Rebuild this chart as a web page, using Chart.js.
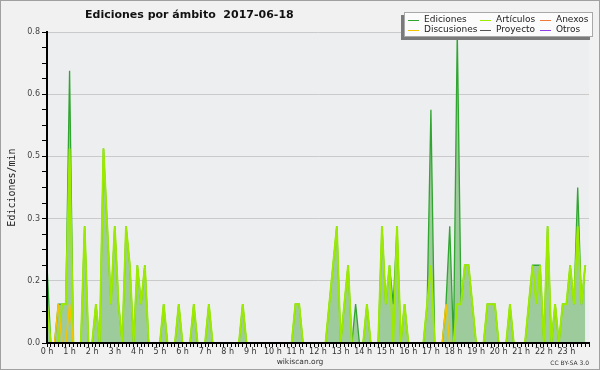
<!DOCTYPE html>
<html><head><meta charset="utf-8">
<script src="https://cdn.jsdelivr.net/npm/chart.js@4/dist/chart.umd.min.js"></script>
<style>html,body{margin:0;padding:0;background:#f1f1f1}#wrap{width:600px;height:370px;position:relative}</style>
</head><body><div id="wrap"><canvas id="c" width="600" height="370"></canvas></div>
<script>
const chartTitle = 'Ediciones por ámbito  2017-06-18';
const yTitle = 'Ediciones/min';
const hourLabels = ['0 h','1 h','2 h','3 h','4 h','5 h','6 h','7 h','8 h','9 h','10 h','11 h','12 h','13 h','14 h','15 h','16 h','17 h','18 h','19 h','20 h','21 h','22 h','23 h'];
const seriesNames = ['Ediciones','Artículos','Anexos','Discusiones','Proyecto','Otros'];
// values every 10 minutes (edits per minute), 6 per hour
const ediciones = [
  0.2,0,0,0.1,0.1,0.1,   0.7,0,0,0,0.3,0,   0,0.1,0,0.5,0.3,0.1,   0.3,0.1,0,0.3,0.2,0,
  0.2,0.1,0.2,0,0,0,     0,0.1,0,0,0,0.1,   0,0,0,0.1,0,0,         0,0.1,0,0,0,0,
  0,0,0,0,0.1,0,         0,0,0,0,0,0,       0,0,0,0,0,0,           0.1,0.1,0,0,0,0,
  0,0,0,0.1,0.2,0.3,     0,0.1,0.2,0,0.1,0, 0,0.1,0,0,0,0.3,       0.1,0.2,0.1,0.3,0,0.1,
  0,0,0,0,0,0.1,         0.6,0,0,0,0.1,0.3, 0,0.8,0.1,0.2,0.2,0.1, 0,0,0,0.1,0.1,0.1,
  0,0,0,0.1,0,0,         0,0,0.1,0.2,0.2,0.2, 0,0.3,0,0.1,0,0.1,   0.1,0.2,0.1,0.4,0.1,0.2
];
const articulos = [
  0.1,0,0,0,0.1,0.1,     0.5,0,0,0,0.3,0,   0,0.1,0,0.5,0.3,0.1,   0.3,0.1,0,0.3,0.2,0,
  0.2,0.1,0.2,0,0,0,     0,0.1,0,0,0,0.1,   0,0,0,0.1,0,0,         0,0.1,0,0,0,0,
  0,0,0,0,0.1,0,         0,0,0,0,0,0,       0,0,0,0,0,0,           0.1,0.1,0,0,0,0,
  0,0,0,0.1,0.2,0.3,     0,0.1,0.2,0,0,0,   0,0.1,0,0,0,0.3,       0.1,0.2,0,0.3,0,0.1,
  0,0,0,0,0,0.1,         0.2,0,0,0,0,0,     0,0.1,0.1,0.2,0.2,0.1, 0,0,0,0.1,0.1,0.1,
  0,0,0,0.1,0,0,         0,0,0.1,0.2,0.1,0.2, 0,0.3,0,0.1,0,0.1,   0.1,0.2,0.1,0.3,0.1,0.2
];
const discusiones = [
  0,0,0,0.1,0,0,  0.1,0,0,0,0,0,  0,0,0,0,0,0,  0,0,0,0,0,0,
  0,0,0,0,0,0,    0,0,0,0,0,0,    0,0,0,0,0,0,  0,0,0,0,0,0,
  0,0,0,0,0,0,    0,0,0,0,0,0,    0,0,0,0,0,0,  0,0,0,0,0,0,
  0,0,0,0,0,0,    0,0,0,0,0,0,    0,0,0,0,0,0,  0,0,0,0,0,0,
  0,0,0,0,0,0,    0,0,0,0,0.1,0,  0,0,0,0,0,0,  0,0,0,0,0,0,
  0,0,0,0,0,0,    0,0,0,0,0,0,    0,0,0,0,0,0,  0,0,0,0,0,0
];
const anexos = [];
const proyecto = [];
const otros = [];
const seriesColors = ['#30a530','#9bea00','#f07a3a','#f4c400','#555555','#8f3ee8'];
const seriesWidths = [1.3, 2, 1.5, 1.5, 1.5, 1.5];
const yMax = 0.8, yStep = 0.04;

const toXY = arr => arr.map((v, i) => ({x: i, y: v}));
const seriesData = [ediciones, articulos, anexos, discusiones, proyecto, otros];
const drawOrder = [5, 4, 2, 3, 1, 1];

const datasets = seriesNames.map((name, k) => ({
  label: name,
  data: toXY(seriesData[k]),
  borderColor: seriesColors[k],
  backgroundColor: k === 0 ? '#9ecb9b' : seriesColors[k],
  fill: k === 0 ? 'origin' : false,
  borderWidth: seriesWidths[k],
  pointRadius: 0,
  tension: 0,
  order: drawOrder[k]
}));

const decor = {
  id: 'decor',
  beforeDraw(chart) {
    const {ctx, chartArea: a} = chart;
    ctx.save();
    ctx.fillStyle = '#f1f1f1';
    ctx.fillRect(0, 0, chart.width, chart.height);
    ctx.fillStyle = '#edeef0';
    ctx.fillRect(a.left, a.top, a.right - a.left, a.bottom - a.top);
    ctx.restore();
  },
  afterDraw(chart) {
    const ctx = chart.ctx;
    ctx.save();
    // title
    ctx.fillStyle = '#111';
    ctx.font = 'bold 11px "DejaVu Sans"';
    ctx.textBaseline = 'alphabetic';
    ctx.textAlign = 'left';
    ctx.fillText(chartTitle, 85, 18);
    // legend box with shadow
    ctx.fillStyle = '#7a7a7a';
    ctx.fillRect(401, 15, 189, 25);
    ctx.fillStyle = '#fbfbfb';
    ctx.fillRect(404, 12, 189, 25);
    ctx.strokeStyle = '#a8a8a8';
    ctx.lineWidth = 1;
    ctx.strokeRect(404.5, 12.5, 188, 24);
    const colX = [408, 480, 540];
    const rowY = [20, 30];
    ctx.font = '9px "DejaVu Sans"';
    ctx.textBaseline = 'middle';
    chart.data.datasets.forEach((ds, i) => {
      const cx = colX[i % 3], cy = rowY[Math.floor(i / 3)];
      ctx.strokeStyle = ds.borderColor;
      ctx.lineWidth = 1;
      ctx.beginPath();
      ctx.moveTo(cx, cy + 0.5);
      ctx.lineTo(cx + 11, cy + 0.5);
      ctx.stroke();
      ctx.fillStyle = '#222';
      ctx.fillText(ds.label, cx + 16, cy);
    });
    // footer
    ctx.fillStyle = '#333';
    ctx.textBaseline = 'alphabetic';
    ctx.textAlign = 'center';
    ctx.font = '7.5px "DejaVu Sans"';
    ctx.fillText('wikiscan.org', 300, 364);
    ctx.textAlign = 'right';
    ctx.font = '6px "DejaVu Sans"';
    ctx.fillText('CC BY-SA 3.0', 589, 365);
    // frame
    ctx.strokeStyle = '#a0a0a0';
    ctx.lineWidth = 1;
    ctx.strokeRect(0.5, 0.5, chart.width - 1, chart.height - 1);
    ctx.restore();
  }
};

new Chart(document.getElementById('c'), {
  type: 'line',
  data: {datasets},
  options: {
    responsive: false,
    animation: false,
    events: [],
    layout: {padding: {left: 0, right: 11, top: 32, bottom: 0}},
    plugins: {legend: {display: false}, tooltip: {enabled: false}, title: {display: false}},
    scales: {
      x: {
        type: 'linear',
        min: 0,
        max: hourLabels.length * 6,
        afterFit: s => { s.height = 27; },
        border: {display: true, color: '#000', width: 2, z: 1},
        grid: {drawOnChartArea: false, drawTicks: true, tickLength: 4, tickColor: '#000', color: '#000', z: 1},
        ticks: {
          stepSize: 1,
          autoSkip: false,
          maxRotation: 0,
          minRotation: 0,
          padding: 0,
          color: '#333',
          font: {family: 'DejaVu Sans', size: 8},
          callback: v => (v % 6 === 0 && v / 6 < hourLabels.length) ? hourLabels[v / 6] : ''
        }
      },
      y: {
        min: 0,
        max: yMax,
        afterFit: s => { s.width = 47; },
        border: {display: true, color: '#000', width: 2, z: 1},
        grid: {
          drawTicks: true,
          tickLength: 5,
          tickColor: '#000',
          color: ctx => (ctx.index % 4 === 0 && ctx.index > 0) ? '#cacaca' : 'rgba(0,0,0,0)'
        },
        title: {display: true, text: yTitle, color: '#222', font: {family: 'DejaVu Sans Mono', size: 10}, padding: {top: 6, bottom: 0}},
        ticks: {
          stepSize: yStep,
          autoSkip: false,
          padding: 2,
          color: '#444',
          font: {family: 'DejaVu Sans', size: 8},
          callback: (v, i) => i % 4 === 0 ? v.toFixed(1) : ''
        }
      }
    }
  },
  plugins: [decor]
});
</script>
</body></html>
